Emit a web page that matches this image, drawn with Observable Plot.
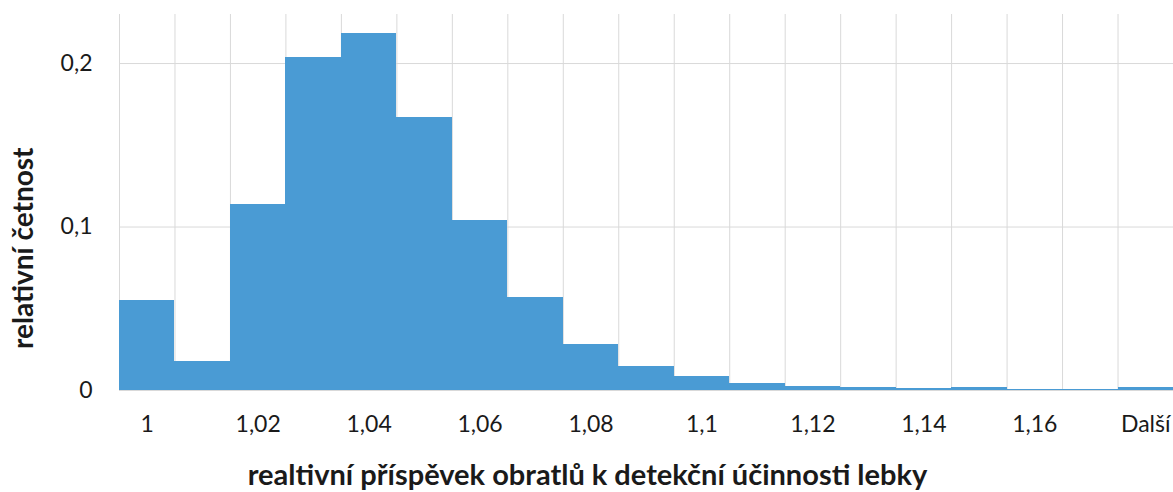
<!DOCTYPE html>
<html>
<head>
<meta charset="utf-8">
<script src="https://cdn.jsdelivr.net/npm/d3@7"></script>
<script src="https://cdn.jsdelivr.net/npm/@observablehq/plot@0.6"></script>
<style>
  html, body { margin: 0; padding: 0; background: #fff; }
  #chart { width: 1173px; height: 492px; }
</style>
</head>
<body>
<div id="chart"></div>
<script>
// Histogram bins (upper bin limits) and their relative frequencies
const bins = ["1", "1,01", "1,02", "1,03", "1,04", "1,05", "1,06", "1,07", "1,08", "1,09",
              "1,1", "1,11", "1,12", "1,13", "1,14", "1,15", "1,16", "1,17", "Další"];
const relFreq = [0.0549, 0.0180, 0.1139, 0.2037, 0.2184, 0.1668, 0.1039, 0.0567, 0.0284, 0.0147,
                 0.0084, 0.0041, 0.0024, 0.0020, 0.0012, 0.0016, 0.0006, 0.0006, 0.0016];
const yTicks = [0, 0.1, 0.2];
const xTitle = "realtivní příspěvek obratlů k detekční účinnosti lebky";
const yTitle = "relativní četnost";

const data = bins.map((b, i) => ({bin: b, i, value: relFreq[i]}));
const labelIdx = d3.range(0, bins.length, 2);
const font = "Lato, 'Open Sans', sans-serif";

const chart = Plot.plot({
  width: 1173,
  height: 492,
  marginLeft: 119,
  marginRight: 0,
  marginTop: 14,
  marginBottom: 102,
  style: {fontFamily: font, fontSize: "23px", color: "#1a1a1a", background: "#fff"},
  x: {domain: [0, bins.length], axis: null},
  y: {domain: [0, 0.23], axis: null},
  marks: [
    // vertical grid at bin boundaries
    Plot.ruleX(d3.range(0, bins.length + 1), {stroke: "#d9d9d9", strokeWidth: 1}),
    // horizontal grid
    Plot.ruleY(yTicks, {stroke: "#d9d9d9", strokeWidth: 1}),
    // bars
    Plot.rectY(data, {x1: "i", x2: d => d.i + 1, y: "value", fill: "#4a9bd4", shapeRendering: "crispEdges"}),
    // y tick labels
    Plot.text(yTicks, {
      x: 0, y: d => d, text: d => d === 0 ? "0" : String(d).replace(".", ","),
      textAnchor: "end", dx: -27, fontSize: 23, fill: "#1a1a1a"
    }),
    // x tick labels (every other bin)
    Plot.text(labelIdx, {
      x: d => d + 0.5, y: 0, text: d => bins[d],
      dy: 34, fontSize: 23, fill: "#1a1a1a"
    }),
    // axis titles (x title centred on the whole figure)
    Plot.text([xTitle], {
      x: bins.length / 2, y: 0, dx: -59, dy: 85, text: d => d,
      fontWeight: "bold", fontSize: 29, fill: "#1a1a1a"
    }),
    Plot.text([yTitle], {
      x: 0, y: 0.087, dx: -95, text: d => d, rotate: -90, textAnchor: "middle",
      fontWeight: "bold", fontSize: 28, fill: "#1a1a1a"
    })
  ]
});
document.getElementById("chart").append(chart);
</script>
</body>
</html>
